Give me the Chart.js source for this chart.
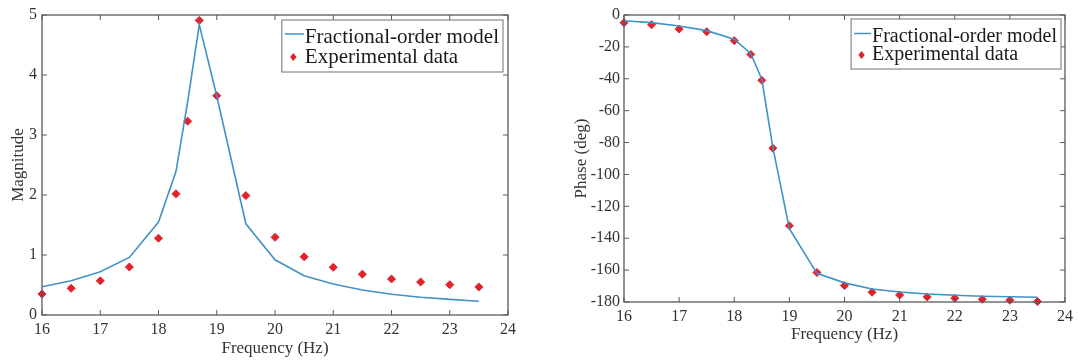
<!DOCTYPE html>
<html>
<head>
<meta charset="utf-8">
<script src="https://cdn.jsdelivr.net/npm/chart.js@4.4.1/dist/chart.umd.min.js"></script>
<style>
    html, body { margin: 0; padding: 0; background: #fff; }
    body { width: 1078px; height: 360px; position: relative; overflow: hidden; }
    .panel { position: absolute; top: 0; height: 360px; }
    #left-panel { left: 0; width: 530px; }
    #right-panel { left: 540px; width: 538px; }
</style>
</head>
<body>
<div class="panel" id="left-panel"><canvas id="magnitude-chart"></canvas></div>
<div class="panel" id="right-panel"><canvas id="phase-chart"></canvas></div>
<script>
const frequency = [16, 16.5, 17, 17.5, 18, 18.3, 18.5, 18.7, 19, 19.5, 20, 20.5, 21, 21.5, 22, 22.5, 23, 23.5];

const magnitudeModel = [0.47, 0.57, 0.72, 0.96, 1.55, 2.39, 3.55, 4.84, 3.65, 1.52, 0.92, 0.655, 0.517, 0.417, 0.345, 0.295, 0.26, 0.228];
const magnitudeData = [0.35, 0.445, 0.57, 0.80, 1.28, 2.02, 3.23, 4.91, 3.655, 1.99, 1.295, 0.97, 0.795, 0.68, 0.60, 0.55, 0.505, 0.467];

const phaseModel = [-3.6, -4.8, -6.9, -9.8, -15.2, -24.3, -40.3, -83, -134, -162, -168, -171.8, -173.7, -175, -175.8, -176.4, -176.7, -177.0];
const phaseData = [-4.8, -6.1, -8.8, -10.5, -16.1, -24.7, -41, -83.5, -132.2, -161.5, -169.7, -173.9, -175.6, -176.8, -177.6, -178.3, -178.9, -179.7];

const freqTicks = [16, 17, 18, 19, 20, 21, 22, 23, 24];
const magnitudeTicks = [0, 1, 2, 3, 4, 5];
const phaseTicks = [-180, -160, -140, -120, -100, -80, -60, -40, -20, 0];

const modelLabel = 'Fractional-order model';
const dataLabel = 'Experimental data';

const SERIF = '"Liberation Serif", "Times New Roman", serif';
const BLUE = '#4192c6';
const RED = '#e0222c';
const AXIS = '#5a5a5a';

// MATLAB style box with inward ticks on all four sides
const boxPlugin = {
    id: 'matlabBox',
    afterDatasetsDraw(chart) {
        const { ctx, chartArea: a, scales } = chart;
        const len = 5;
        ctx.save();
        ctx.strokeStyle = AXIS;
        ctx.lineWidth = 1.3;
        ctx.strokeRect(a.left, a.top, a.right - a.left, a.bottom - a.top);
        ctx.lineWidth = 1;
        ctx.beginPath();
        scales.x.ticks.forEach(t => {
            const px = scales.x.getPixelForValue(t.value);
            ctx.moveTo(px, a.bottom); ctx.lineTo(px, a.bottom - len);
            ctx.moveTo(px, a.top); ctx.lineTo(px, a.top + len);
        });
        scales.y.ticks.forEach(t => {
            const py = scales.y.getPixelForValue(t.value);
            ctx.moveTo(a.left, py); ctx.lineTo(a.left + len, py);
            ctx.moveTo(a.right, py); ctx.lineTo(a.right - len, py);
        });
        ctx.stroke();
        ctx.restore();
    }
};

// legend box in the top right corner of the plot area
const legendPlugin = {
    id: 'boxLegend',
    afterDraw(chart, args, opts) {
        const { ctx, chartArea: a } = chart;
        const sets = chart.data.datasets;
        ctx.save();
        ctx.font = opts.fontSize + 'px ' + SERIF;
        const textW = Math.max(...sets.map(d => ctx.measureText(d.label).width));
        const w = textW + opts.textLeft + 4;
        const h = opts.height;
        const x = a.right - opts.inset - w;
        const y = a.top + opts.inset;
        ctx.fillStyle = '#fff';
        ctx.fillRect(x, y, w, h);
        ctx.strokeStyle = '#707070';
        ctx.lineWidth = 1;
        ctx.strokeRect(x, y, w, h);

        ctx.textBaseline = 'middle';
        sets.forEach((d, i) => {
            const ry = y + opts.rows[i];
            if (d.showLine === false) {
                const cx = x + opts.textLeft / 2;
                ctx.fillStyle = RED;
                ctx.beginPath();
                ctx.moveTo(cx, ry - 4); ctx.lineTo(cx + 3.2, ry);
                ctx.lineTo(cx, ry + 4); ctx.lineTo(cx - 3.2, ry);
                ctx.closePath();
                ctx.fill();
            } else {
                ctx.strokeStyle = BLUE;
                ctx.lineWidth = 1.5;
                ctx.beginPath();
                ctx.moveTo(x + 3, ry - 3); ctx.lineTo(x + opts.textLeft - 1, ry - 3);
                ctx.stroke();
            }
            ctx.fillStyle = '#1a1a1a';
            ctx.fillText(d.label, x + opts.textLeft, ry);
        });
        ctx.restore();
    }
};

function toPoints(xs, ys) {
    return xs.map((x, i) => ({ x: x, y: ys[i] }));
}

function makeChart(canvasId, cfg) {
    return new Chart(document.getElementById(canvasId), {
        type: 'line',
        data: {
            datasets: [
                {
                    label: modelLabel,
                    data: toPoints(frequency, cfg.model),
                    borderColor: BLUE,
                    borderWidth: 1.6,
                    pointRadius: 0,
                    tension: 0,
                    fill: false
                },
                {
                    label: dataLabel,
                    data: toPoints(frequency, cfg.measured),
                    showLine: false,
                    pointStyle: 'rectRot',
                    pointRadius: 4,
                    pointBackgroundColor: RED,
                    pointBorderColor: RED,
                    pointBorderWidth: 1,
                    clip: false
                }
            ]
        },
        options: {
            responsive: true,
            maintainAspectRatio: false,
            animation: false,
            layout: { padding: cfg.padding },
            plugins: {
                legend: { display: false },
                tooltip: { enabled: false },
                boxLegend: cfg.legend
            },
            scales: {
                x: {
                    type: 'linear',
                    min: 16,
                    max: 24,
                    afterBuildTicks: s => { s.ticks = freqTicks.map(v => ({ value: v })); },
                    afterFit: s => { s.height = cfg.xHeight; },
                    grid: { display: false, drawTicks: false },
                    border: { display: false },
                    ticks: { color: '#333', padding: 5, font: { family: SERIF, size: 16 } },
                    title: {
                        display: true,
                        text: 'Frequency (Hz)',
                        color: '#333',
                        padding: { top: 0, bottom: cfg.xTitlePad },
                        font: { family: SERIF, size: 17 }
                    }
                },
                y: {
                    type: 'linear',
                    min: cfg.yMin,
                    max: cfg.yMax,
                    afterBuildTicks: s => { s.ticks = cfg.yTicks.map(v => ({ value: v })); },
                    afterFit: s => { s.width = cfg.yWidth; },
                    grid: { display: false, drawTicks: false },
                    border: { display: false },
                    ticks: { color: '#333', padding: cfg.yTickPad, font: { family: SERIF, size: 16 } },
                    title: {
                        display: true,
                        text: cfg.yTitle,
                        color: '#333',
                        padding: { top: cfg.yTitlePad, bottom: 0 },
                        font: { family: SERIF, size: 17 }
                    }
                }
            }
        },
        plugins: [boxPlugin, legendPlugin]
    });
}

makeChart('magnitude-chart', {
    model: magnitudeModel,
    measured: magnitudeData,
    yMin: 0,
    yMax: 5,
    yTicks: magnitudeTicks,
    yTitle: 'Magnitude',
    padding: { top: 15, right: 22, bottom: 0, left: 0 },
    yWidth: 42,
    xHeight: 45,
    yTickPad: 5,
    yTitlePad: 8,
    xTitlePad: 1,
    legend: { fontSize: 21, textLeft: 23, height: 52, inset: 5, rows: [17, 37] }
});

makeChart('phase-chart', {
    model: phaseModel,
    measured: phaseData,
    yMin: -180,
    yMax: 0,
    yTicks: phaseTicks,
    yTitle: 'Phase (deg)',
    padding: { top: 15, right: 8, bottom: 0, left: 0 },
    yWidth: 84,
    xHeight: 58,
    yTickPad: 4,
    yTitlePad: 31,
    xTitlePad: 15,
    legend: { fontSize: 20, textLeft: 21, height: 50, inset: 4, rows: [17.5, 36] }
});
</script>
</body>
</html>
